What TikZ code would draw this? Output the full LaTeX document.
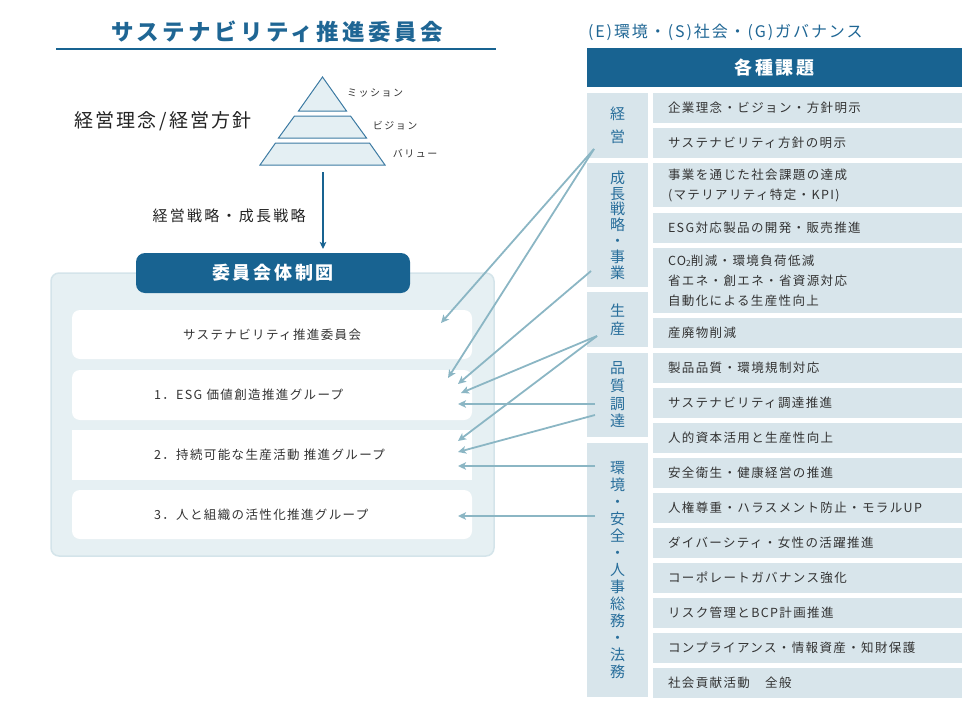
\documentclass[tikz,border=0pt]{standalone}
\usepackage{fontspec}
\setmainfont{Noto Sans CJK JP}
\newfontfamily\jpplain{Noto Sans CJK JP}
\newfontfamily\jpitem[LetterSpace=11]{Noto Sans CJK JP}
\newfontfamily\jpwide[LetterSpace=15]{Noto Sans CJK JP}
\newfontfamily\jpmid[LetterSpace=12]{Noto Sans CJK JP}
\usetikzlibrary{arrows.meta}
\definecolor{dblue}{RGB}{24,99,145}
\definecolor{tblue}{RGB}{31,102,148}
\definecolor{catblue}{RGB}{40,110,155}
\definecolor{cellbg}{RGB}{216,229,235}
\definecolor{panelbg}{RGB}{230,240,243}
\definecolor{panelln}{RGB}{212,228,234}
\definecolor{arrc}{RGB}{139,182,196}
\definecolor{pyrfill}{RGB}{228,239,243}
\definecolor{pyrline}{RGB}{61,123,163}
\definecolor{txt}{RGB}{51,51,51}
\definecolor{txtd}{RGB}{34,34,34}
\tikzset{
  catbox/.style={fill=cellbg, minimum width=61pt, text=catblue, align=center},
  itembox/.style={fill=cellbg, minimum width=309pt, text width=279pt, inner xsep=15pt, inner ysep=0pt, align=left, text=txt, font=\jpitem\fontsize{12.5}{20}\selectfont},
  wbox/.style={fill=white, rounded corners=8pt, minimum width=400pt, text width=318pt, inner xsep=41pt, align=left, text=txt, font=\jpitem\fontsize{12.5}{20}\selectfont},
  pyr/.style={fill=pyrfill, draw=pyrline, line width=1pt, line join=miter},
  pyrlabel/.style={text=txt, font=\jpwide\fontsize{10}{12}\selectfont},
  conn/.style={draw=arrc, line width=1.8pt, -{Stealth[length=8pt,width=7.5pt,inset=2pt]}},
  darr/.style={draw=dblue, line width=1.8pt, -{Stealth[length=7pt,width=6.5pt,inset=1.5pt]}},
}
\begin{document}
\begin{tikzpicture}[x=1pt,y=-1pt, every node/.style={inner sep=0pt, outer sep=0pt}]
\useasboundingbox (0,0) rectangle (980,720);

% ---------- left side ----------
\node[text=tblue, font=\jpwide\bfseries\fontsize{22.5}{26}\selectfont] (title) at (277,32) {サステナビリティ推進委員会};
\draw[dblue, line width=2pt] (56,49) -- (496,49);

\filldraw[pyr] (322.5,77) -- (346.5,111) -- (298.5,111) -- cycle;
\filldraw[pyr] (294.5,116) -- (350.5,116) -- (366.5,138) -- (278.5,138) -- cycle;
\filldraw[pyr] (275.5,143) -- (369.5,143) -- (385,165) -- (260,165) -- cycle;
\node[pyrlabel] (mis) at (375,93) {ミッション};
\node[pyrlabel] (vis) at (395,126) {ビジョン};
\node[pyrlabel] (val) at (415,154) {バリュー};

\node[text=txtd, font=\jpmid\fontsize{19}{22}\selectfont] (rinen) at (163,121) {経営理念/経営方針};
\node[text=txtd, font=\jpwide\fontsize{15}{18}\selectfont] (senryaku) at (229,216) {経営戦略・成長戦略};

\coordinate (pyrbot) at (323,172);
\coordinate (hdrtop) at (323,249);
\draw[darr] (pyrbot) -- (hdrtop);

\node[fill=panelbg, draw=panelln, line width=1.5pt, rounded corners=8pt, minimum width=443pt, minimum height=283pt] (panel) at (272.5,414.5) {};
\node[fill=dblue, rounded corners=9pt, minimum width=274pt, minimum height=40pt, text=white, font=\jpwide\bfseries\fontsize{18}{20}\selectfont] (hdr) at (273,273) {委員会体制図};

\node[wbox, minimum height=49pt, align=center] (b0) at (272,334.5) {サステナビリティ推進委員会};
\node[wbox, minimum height=50pt] (b1) at (272,395) {\hspace*{41pt}1．ESG 価値創造推進グループ};
\node[wbox, minimum height=50pt, rounded corners=0pt] (b2) at (272,455) {\hspace*{41pt}2．持続可能な生産活動 推進グループ};
\node[wbox, minimum height=49pt] (b3) at (272,514.5) {\hspace*{41pt}3．人と組織の活性化推進グループ};

% ---------- right side ----------
\node[anchor=west, text=tblue, font=\jpmid\fontsize{16}{18}\selectfont] (esg) at (588,32) {(E)環境・(S)社会・(G)ガバナンス};
\node[fill=dblue, minimum width=375pt, minimum height=39pt, text=white, font=\jpwide\bfseries\fontsize{18}{20}\selectfont] (kadai) at (774.5,67.5) {各種課題};

\node[catbox, minimum height=65pt, font=\jpplain\fontsize{15}{23}\selectfont] (c1) at (617.5,125.5) {経\\営};
\node[catbox, minimum height=124pt, font=\jpplain\fontsize{15}{15.8}\selectfont] (c2) at (617.5,225) {成\\長\\戦\\略\\・\\事\\業};
\node[catbox, minimum height=55pt, font=\jpplain\fontsize{15}{18}\selectfont] (c3) at (617.5,319.5) {生\\産};
\node[catbox, minimum height=84pt, font=\jpplain\fontsize{15}{17.7}\selectfont] (c4) at (617.5,395) {品\\質\\調\\達};
\node[catbox, minimum height=254pt, font=\jpplain\fontsize{15}{17}\selectfont] (c5) at (617.5,570) {環\\境\\・\\安\\全\\・\\人\\事\\総\\務\\・\\法\\務};

\node[itembox, minimum height=30pt] (i1) at (807.5,108) {企業理念・ビジョン・方針明示};
\node[itembox, minimum height=30pt] (i2) at (807.5,143) {サステナビリティ方針の明示};
\node[itembox, minimum height=44pt] (i3) at (807.5,185) {事業を通じた社会課題の達成\\(マテリアリティ特定・KPI)};
\node[itembox, minimum height=30pt] (i4) at (807.5,228) {ESG対応製品の開発・販売推進};
\node[itembox, minimum height=65pt] (i5) at (807.5,280.5) {CO{\fontsize{8.5}{8.5}\selectfont\raisebox{-1.2pt}{2}}削減・環境負荷低減\\省エネ・創エネ・省資源対応\\自動化による生産性向上};
\node[itembox, minimum height=30pt] (i6) at (807.5,333) {産廃物削減};
\node[itembox, minimum height=30pt] (i7) at (807.5,368) {製品品質・環境規制対応};
\node[itembox, minimum height=30pt] (i8) at (807.5,403) {サステナビリティ調達推進};
\node[itembox, minimum height=30pt] (i9) at (807.5,438) {人的資本活用と生産性向上};
\node[itembox, minimum height=30pt] (i10) at (807.5,473) {安全衛生・健康経営の推進};
\node[itembox, minimum height=30pt] (i11) at (807.5,508) {人権尊重・ハラスメント防止・モラルUP};
\node[itembox, minimum height=30pt] (i12) at (807.5,543) {ダイバーシティ・女性の活躍推進};
\node[itembox, minimum height=30pt] (i13) at (807.5,578) {コーポレートガバナンス強化};
\node[itembox, minimum height=30pt] (i14) at (807.5,613) {リスク管理とBCP計画推進};
\node[itembox, minimum height=30pt] (i15) at (807.5,648) {コンプライアンス・情報資産・知財保護};
\node[itembox, minimum height=30pt] (i16) at (807.5,683) {社会貢献活動　全般};

% ---------- connectors ----------
\coordinate (s1) at (594,149);
\coordinate (s2) at (591,271);
\coordinate (s3) at (597,336);
\coordinate (s4) at (595,404);
\coordinate (s5) at (595,415);
\coordinate (s6) at (595,466);
\coordinate (s7) at (595,516);
\coordinate (e1) at (441,323);
\coordinate (e2) at (448,378);
\coordinate (e3) at (458,384);
\coordinate (e4) at (461,393);
\coordinate (e5) at (458,404);
\coordinate (e6) at (458,441);
\coordinate (e7) at (458,452);
\coordinate (e8) at (458,466);
\coordinate (e9) at (458,516);
\draw[conn] (s1) -- (e1);
\draw[conn] (s1) -- (e2);
\draw[conn] (s2) -- (e3);
\draw[conn] (s3) -- (e4);
\draw[conn] (s3) -- (e6);
\draw[conn] (s4) -- (e5);
\draw[conn] (s5) -- (e7);
\draw[conn] (s6) -- (e8);
\draw[conn] (s7) -- (e9);
\end{tikzpicture}
\end{document}
